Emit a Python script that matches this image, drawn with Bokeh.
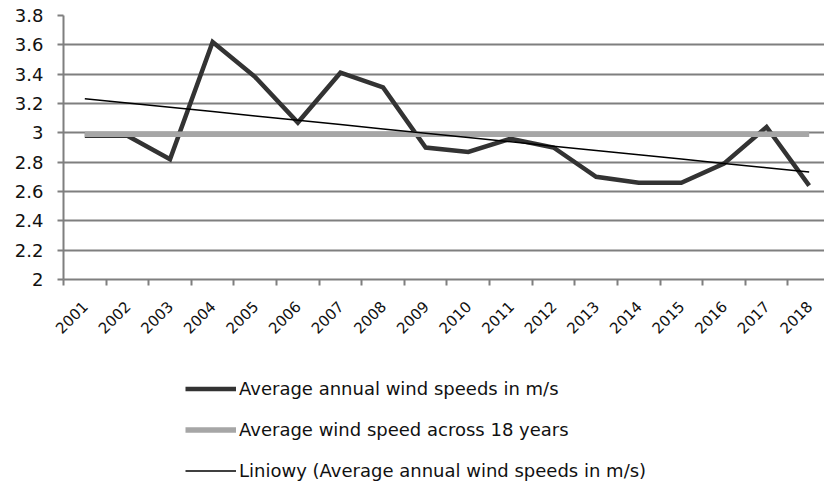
import numpy as np
from bokeh.plotting import figure
from bokeh.layouts import column
from bokeh.models import (FixedTicker, Range1d, Legend, LegendItem,
                          NumeralTickFormatter)
from bokeh.embed import file_html
from bokeh.resources import INLINE

# ---- data ----
years = ["2001", "2002", "2003", "2004", "2005", "2006", "2007", "2008", "2009",
         "2010", "2011", "2012", "2013", "2014", "2015", "2016", "2017", "2018"]
wind_speed = [2.98, 2.98, 2.82, 3.62, 3.38, 3.07, 3.41, 3.31, 2.90,
              2.87, 2.96, 2.90, 2.70, 2.66, 2.66, 2.79, 3.04, 2.64]
avg_speed = 2.99
y_ticks = [2.0, 2.2, 2.4, 2.6, 2.8, 3.0, 3.2, 3.4, 3.6, 3.8]

label_main = "Average annual wind speeds in m/s"
label_avg = "Average wind speed across 18 years"
label_trend = "Liniowy (Average annual wind speeds in m/s)"

# ---- derived ----
xs = np.arange(len(years))
avg_line = [avg_speed] * len(years)
slope, intercept = np.polyfit(xs, wind_speed, 1)
trend = slope * xs + intercept
boundaries = list(np.arange(len(years) + 1) - 0.5)

FONT = "DejaVu Sans"
GRID = "#7f7f7f"
TXT = "#111111"
MAIN_STYLE = dict(line_color="#333333", line_width=4.5)
AVG_STYLE = dict(line_color="#a6a6a6", line_width=5.5)
TREND_STYLE = dict(line_color="#000000", line_width=1.5)

TOP_H = 355
p = figure(width=824, height=TOP_H, output_backend="svg", toolbar_location=None,
           x_range=Range1d(-0.5, 17.36), y_range=Range1d(2.0, 3.8),
           min_border_left=63, min_border_top=15, min_border_right=0,
           min_border_bottom=TOP_H - 279)
p.outline_line_color = None
p.background_fill_color = "white"
p.border_fill_color = "white"

# grid
p.xgrid.visible = False
p.ygrid.grid_line_color = GRID
p.ygrid.grid_line_width = 2
p.ygrid.ticker = FixedTicker(ticks=y_ticks)

# y axis
ya = p.yaxis[0]
ya.ticker = FixedTicker(ticks=y_ticks)
ya.formatter = NumeralTickFormatter(format="0.[0]")
ya.axis_line_color = GRID
ya.axis_line_width = 2
ya.major_tick_line_color = GRID
ya.major_tick_line_width = 2
ya.major_tick_out = 6
ya.major_tick_in = 0
ya.minor_tick_line_color = None
ya.major_label_text_font = FONT
ya.major_label_text_font_size = "18px"
ya.major_label_text_color = TXT
ya.major_label_standoff = 14

# x axis
xa = p.xaxis[0]
xa.ticker = FixedTicker(ticks=list(xs), minor_ticks=boundaries)
xa.major_label_overrides = {int(i): y for i, y in zip(xs, years)}
xa.major_label_orientation = np.pi / 4
xa.axis_line_color = GRID
xa.axis_line_width = 2
xa.major_tick_line_color = None
xa.major_tick_out = 0
xa.major_tick_in = 0
xa.minor_tick_line_color = GRID
xa.minor_tick_line_width = 2
xa.minor_tick_out = 6
xa.minor_tick_in = 0
xa.major_label_text_font = FONT
xa.major_label_text_font_size = "15px"
xa.major_label_text_color = TXT
xa.major_label_standoff = 18

# series
p.line(xs, wind_speed, line_join="miter", **MAIN_STYLE)
p.line(xs, avg_line, **AVG_STYLE)
p.line(xs, trend, **TREND_STYLE)

# ---- legend panel (separate figure below) ----
BOT_H = 491 - TOP_H
q = figure(width=824, height=BOT_H, output_backend="svg", toolbar_location=None,
           x_range=Range1d(0, 1), y_range=Range1d(0, 1),
           x_axis_type=None, y_axis_type=None,
           min_border=0)
q.outline_line_color = None
q.xgrid.visible = False
q.ygrid.visible = False
q.border_fill_color = "white"
# placeholder renderers (a single NaN point: nothing drawn, but legend glyph shows)
r_main = q.line(x=[np.nan], y=[np.nan], **MAIN_STYLE)
r_avg = q.line(x=[np.nan], y=[np.nan], **AVG_STYLE)
r_trend = q.line(x=[np.nan], y=[np.nan], **TREND_STYLE)

legend = Legend(items=[LegendItem(label=label_main, renderers=[r_main]),
                       LegendItem(label=label_avg, renderers=[r_avg]),
                       LegendItem(label=label_trend, renderers=[r_trend])],
                location=(122, 10), orientation="vertical",
                padding=0, margin=0, spacing=20,
                glyph_width=51, glyph_height=21, label_height=21,
                label_standoff=3,
                label_text_font=FONT, label_text_font_size="18px",
                label_text_color=TXT,
                border_line_color=None, background_fill_alpha=0)
q.add_layout(legend)

layout = column(p, q, spacing=0)
open("out.html", "w").write(file_html(layout, INLINE))
